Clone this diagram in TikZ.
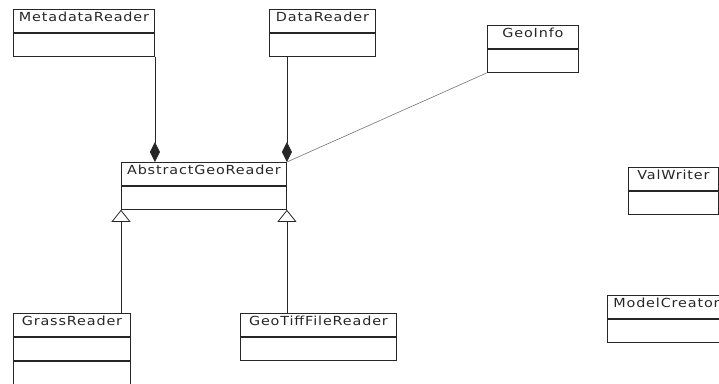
\documentclass[tikz,border=0pt]{standalone}
\usepackage{fontspec}
\usepackage{graphicx}
\usepackage{tikz}
\usepackage{xcolor}
\usetikzlibrary{arrows.meta}
\usetikzlibrary{positioning}

\newfontfamily\umlfont[LetterSpace=6]{DejaVu Sans}
\newcommand{\cname}[1]{\scalebox{1.15}[1]{#1}}

\begin{document}
\begin{tikzpicture}[x=1pt, y=-1pt,
    classname/.style={rectangle, draw=black!85, line width=0.9pt, anchor=north west,
        inner sep=0pt, minimum height=23pt, text height=9pt, text depth=8pt,
        text=black!85, font=\umlfont\fontsize{12.5}{14}\selectfont},
    classbody/.style={rectangle, draw=black!85, line width=0.9pt, anchor=north,
        inner sep=0pt, minimum height=23pt},
    comp/.style={draw=black!85, line width=0.8pt, -{Diamond[length=20pt, width=10pt]}},
    inherit/.style={draw=black!85, line width=0.8pt, -{Triangle[open, length=12pt, width=19pt]}},
    assoc/.style={draw=black!55, line width=0.6pt}]
                \useasboundingbox (0,0) rectangle (719,383);
                \clip (0,0) rectangle (719,383);

                % Nodes
                \node [classname, minimum width=141pt] (MetadataReader) at (13,9) {\cname{MetadataReader}};
                \node [classbody, minimum width=141pt] (MetadataReaderBody) at (MetadataReader.south) {};

                \node [classname, minimum width=106pt] (DataReader) at (269,9) {\cname{DataReader}};
                \node [classbody, minimum width=106pt] (DataReaderBody) at (DataReader.south) {};

                \node [classname, minimum width=91pt] (GeoInfo) at (487,25) {\cname{GeoInfo}};
                \node [classbody, minimum width=91pt] (GeoInfoBody) at (GeoInfo.south) {};

                \node [classname, minimum width=165pt] (AbstractGeoReader) at (121,162) {\cname{AbstractGeoReader}};
                \node [classbody, minimum width=165pt] (AbstractGeoReaderBody) at (AbstractGeoReader.south) {};

                \node [classname, minimum width=90pt] (ValWriter) at (628,167) {\cname{ValWriter}};
                \node [classbody, minimum width=90pt] (ValWriterBody) at (ValWriter.south) {};

                \node [classname, minimum width=118pt] (ModelCreator) at (607,295) {\cname{ModelCreator}};
                \node [classbody, minimum width=118pt] (ModelCreatorBody) at (ModelCreator.south) {};

                \node [classname, minimum width=117pt] (GrassReader) at (13,313) {\cname{GrassReader}};
                \node [classbody, minimum width=117pt] (GrassReaderBody) at (GrassReader.south) {};
                \node [classbody, minimum width=117pt] (GrassReaderOps) at (GrassReaderBody.south) {};

                \node [classname, minimum width=156pt] (GeoTiffFileReader) at (240,313) {\cname{GeoTiffFileReader}};
                \node [classbody, minimum width=156pt] (GeoTiffFileReaderBody) at (GeoTiffFileReader.south) {};

                % Edges
                % readers owned by AbstractGeoReader
                \draw [comp] (MetadataReaderBody.south east) -- (MetadataReaderBody.south east |- AbstractGeoReader.north);
                \draw [comp] (DataReaderBody.south -| AbstractGeoReader.north east) -- (AbstractGeoReader.north east);

                % GeoInfo to AbstractGeoReader
                \draw [assoc] (GeoInfoBody.south west) -- (AbstractGeoReader.north east);

                % subclasses
                \draw [inherit] (GrassReader.north -| AbstractGeoReaderBody.south west) -- (AbstractGeoReaderBody.south west);
                \draw [inherit] (GeoTiffFileReader.north -| AbstractGeoReaderBody.south east) -- (AbstractGeoReaderBody.south east);

            \end{tikzpicture}
\end{document}
